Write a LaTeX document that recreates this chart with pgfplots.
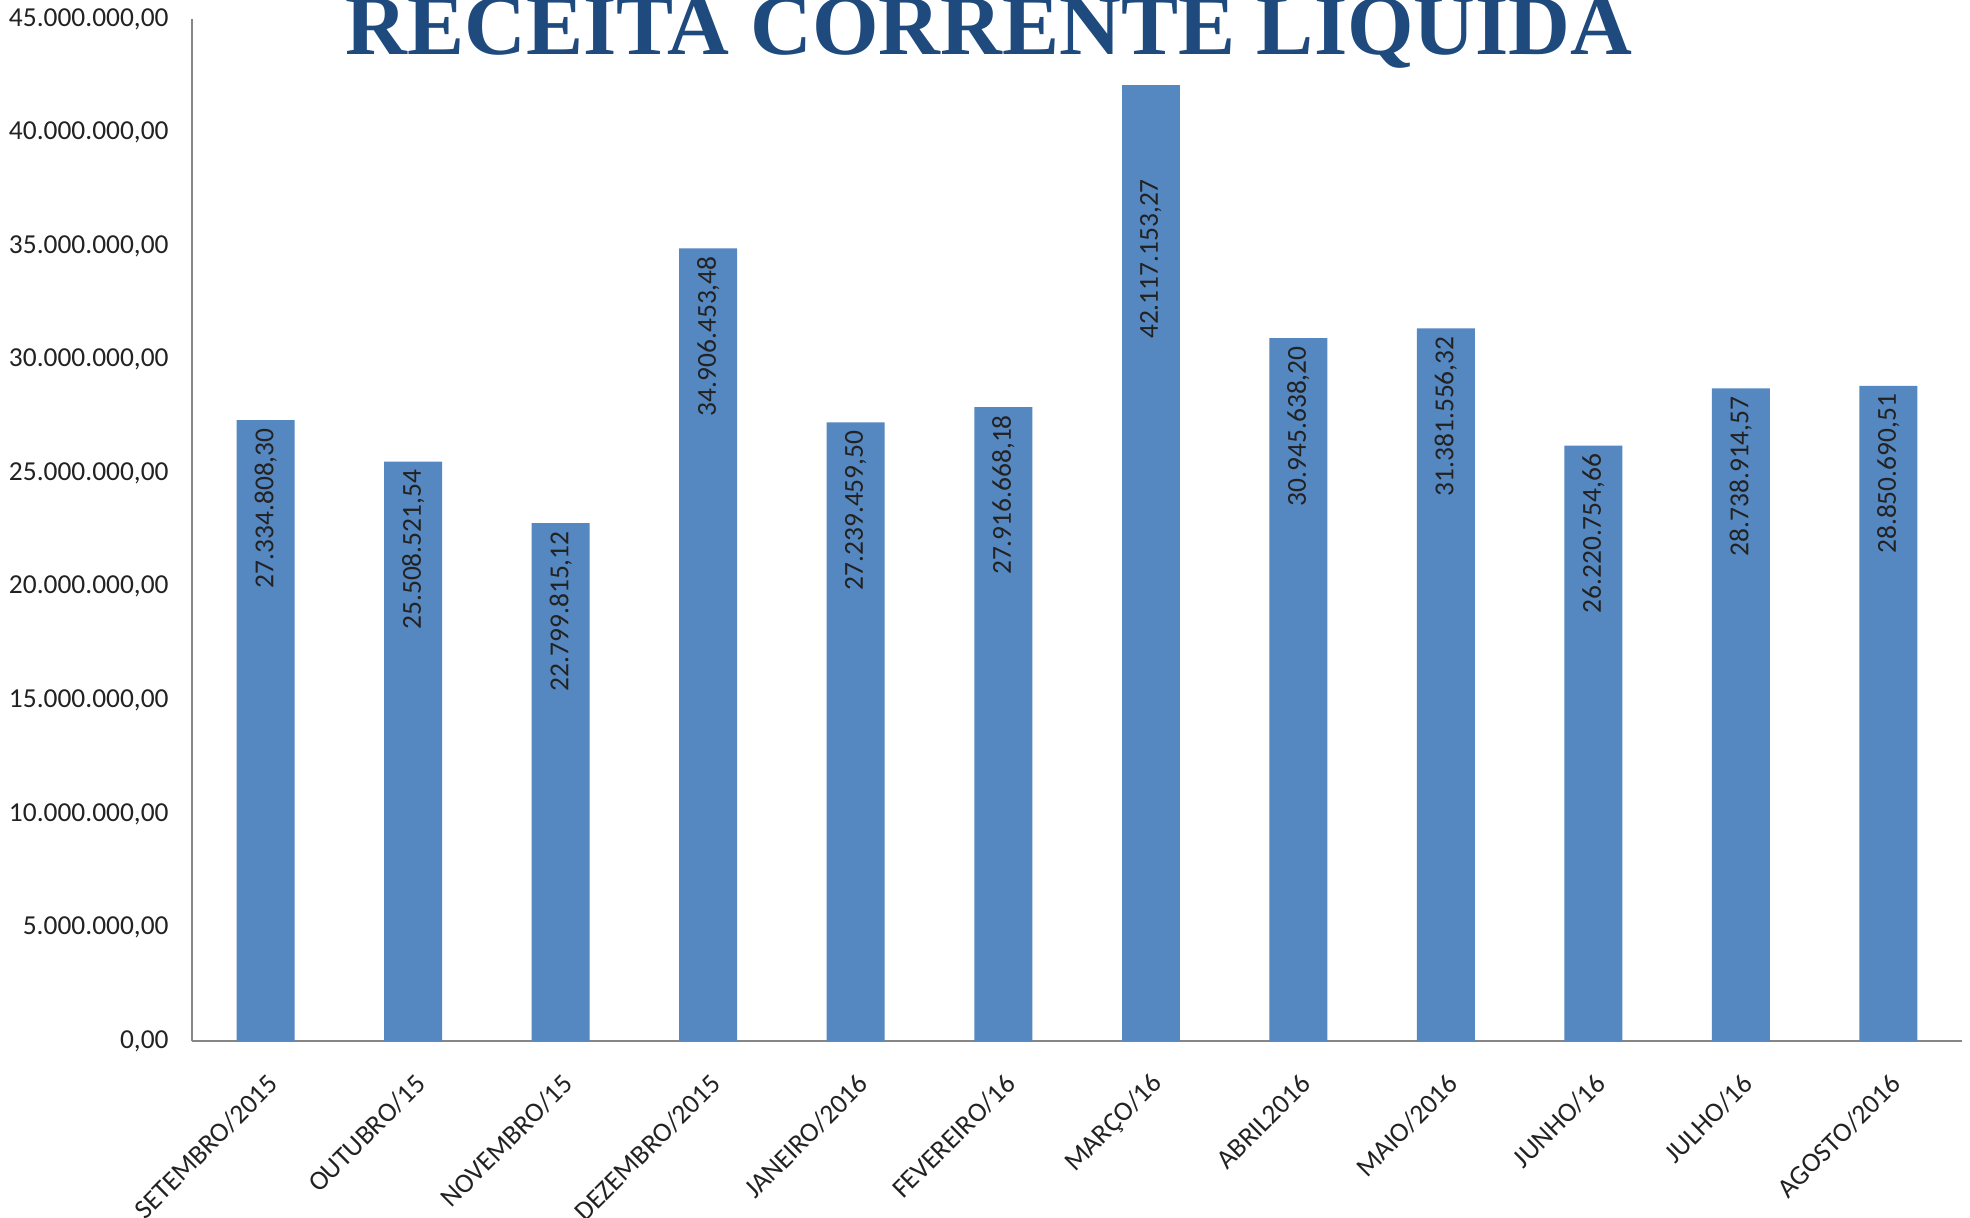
\documentclass[border=0pt]{standalone}
\usepackage{pgfplots}
\pgfplotsset{compat=1.18}
\usepackage{pgfplotstable}
\usepackage{fontspec}
\setmainfont{Carlito}
\newfontfamily\titlefont{Liberation Serif}
\definecolor{barblue}{HTML}{5587C1}
\definecolor{titleblue}{HTML}{1F4A7E}
\definecolor{axisgray}{HTML}{868686}
\definecolor{txt}{HTML}{222222}

\pgfplotstableread{
x y lab
0 27334808.30 27.334.808,30
1 25508521.54 25.508.521,54
2 22799815.12 22.799.815,12
3 34906453.48 34.906.453,48
4 27239459.50 27.239.459,50
5 27916668.18 27.916.668,18
7 30945638.20 30.945.638,20
8 31381556.32 31.381.556,32
9 26220754.66 26.220.754,66
10 28738914.57 28.738.914,57
11 28850690.51 28.850.690,51
}\mainbars

\pgfplotstableread{
x y lab
6 42117153.27 42.117.153,27
}\marcobar

\begin{document}
\begin{tikzpicture}
\useasboundingbox (0,0) rectangle (197mm,-121.7mm);
\begin{axis}[
  at={(19.2mm,-104.1mm)}, anchor=south west,
  scale only axis, width=177mm, height=102.2mm,
  xmin=-0.5, xmax=11.5, ymin=0, ymax=45000000,
  axis lines*=left,
  axis line style={draw=axisgray, line width=0.5pt},
  major tick length=0pt,
  ytick={0,5000000,10000000,15000000,20000000,25000000,30000000,35000000,40000000,45000000},
  yticklabels={{0,00},{5.000.000,00},{10.000.000,00},{15.000.000,00},{20.000.000,00},{25.000.000,00},{30.000.000,00},{35.000.000,00},{40.000.000,00},{45.000.000,00}},
  xtick={0,...,11},
  xticklabels={SETEMBRO/2015,OUTUBRO/15,NOVEMBRO/15,DEZEMBRO/2015,JANEIRO/2016,FEVEREIRO/16,MARÇO/16,ABRIL2016,MAIO/2016,JUNHO/16,JULHO/16,AGOSTO/2016},
  ticklabel style={font=\fontsize{7.8}{9}\selectfont, text=txt},
  yticklabel style={xshift=-1.1mm},
  xticklabel style={inner sep=0pt, xshift=0.8mm, yshift=-3.8mm, rotate=45, anchor=east},
  ybar, bar width=5.8mm,
  clip=false,
]
\addplot[fill=barblue, draw=none, bar shift=0pt,
  nodes near coords, point meta=explicit symbolic,
  every node near coord/.append style={rotate=90, anchor=east, inner sep=0pt, xshift=-0.75mm, font=\fontsize{7.8}{9}\selectfont, text=txt}]
  table[x=x, y=y, meta=lab] {\mainbars};
\addplot[fill=barblue, draw=none, bar shift=0pt,
  nodes near coords, point meta=explicit symbolic,
  every node near coord/.append style={rotate=90, anchor=east, inner sep=0pt, xshift=-9.4mm, font=\fontsize{7.8}{9}\selectfont, text=txt}]
  table[x=x, y=y, meta=lab] {\marcobar};
\end{axis}
\node[font=\titlefont\bfseries\fontsize{24.35}{28}\selectfont, text=titleblue, anchor=base west, inner sep=0pt] at (34.5mm,-5.4mm) {RECEITA CORRENTE LIQUIDA};
\end{tikzpicture}
\end{document}
